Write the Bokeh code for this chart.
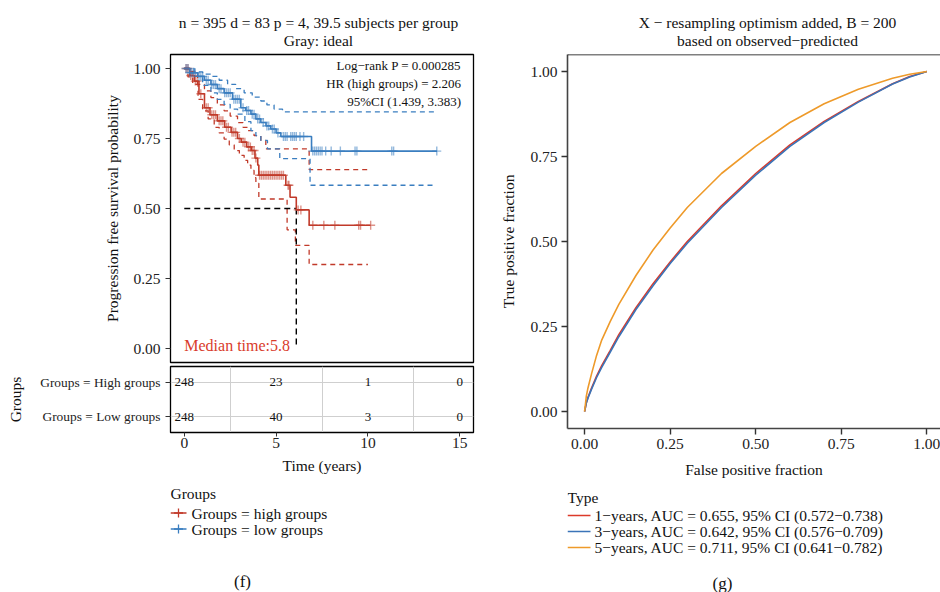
import numpy as np
from bokeh.plotting import figure
from bokeh.models import Range1d, FixedTicker, Span, PrintfTickFormatter
from bokeh.layouts import row, column
from bokeh.embed import file_html
from bokeh.resources import INLINE
from bokeh.core.properties import value

FONT = "Liberation Serif"

# ---------------- Kaplan-Meier data ----------------
high_t = [0, 0.3, 0.55, 0.8, 1.1, 1.4, 1.8, 2.2, 2.55, 2.9, 3.1, 3.4, 3.65, 3.85, 4.0, 4.06, 5.53, 5.76, 6.1, 6.8, 10.15]
high_s = [1.0, 0.975, 0.955, 0.91, 0.86, 0.835, 0.813, 0.79, 0.772, 0.75, 0.737, 0.72, 0.707, 0.68, 0.655, 0.619, 0.583, 0.54, 0.495, 0.44, 0.44]
high_up_t = [0, 0.3, 0.73, 1.1, 1.45, 1.8, 2.17, 2.5, 2.9, 3.2, 3.45, 3.8, 4.17, 4.44, 6.8, 10.15]
high_up_s = [1.0, 0.99, 0.943, 0.92, 0.896, 0.87, 0.849, 0.83, 0.807, 0.79, 0.778, 0.76, 0.743, 0.713, 0.639, 0.639]
high_lo_t = [0, 0.2, 0.46, 0.75, 1.0, 1.3, 1.63, 1.9, 2.17, 2.45, 2.72, 3.0, 3.26, 3.45, 3.63, 3.8, 3.9, 4.06, 5.6, 6.05, 6.8, 10.0]
high_lo_s = [1.0, 0.97, 0.943, 0.89, 0.849, 0.82, 0.79, 0.77, 0.748, 0.727, 0.707, 0.69, 0.672, 0.655, 0.636, 0.61, 0.59, 0.534, 0.424, 0.368, 0.30, 0.30]
high_cens = [0.1, 0.2, 0.35, 0.45, 0.6, 0.7, 0.9, 1.2, 1.3, 1.5, 1.6, 1.7, 1.9, 2.0, 2.1, 2.3, 2.4, 2.6,
             2.7, 2.8, 3.0, 3.2, 3.3, 3.5, 3.6, 3.7, 3.8, 3.9, 4.1, 4.2, 4.3, 4.4, 4.5, 4.6, 4.7, 4.8,
             4.9, 5.0, 5.1, 5.2, 5.3, 5.4, 5.65, 5.7, 6.2, 6.35, 7.0, 7.6, 8.2, 9.5, 9.6, 10.15]

low_t = [0, 0.3, 0.73, 1.1, 1.45, 1.8, 2.17, 2.63, 3.08, 3.35, 3.63, 3.9, 4.17, 4.45, 4.71, 5.0, 5.26, 6.93, 13.77]
low_s = [1.0, 0.985, 0.972, 0.958, 0.943, 0.928, 0.913, 0.89, 0.86, 0.85, 0.837, 0.82, 0.807, 0.795, 0.784, 0.77, 0.757, 0.705, 0.705]
low_up_t = [0, 0.54, 1.0, 1.45, 1.9, 2.36, 2.8, 3.26, 3.7, 4.17, 4.5, 4.89, 5.35, 13.77]
low_up_s = [1.0, 0.988, 0.98, 0.972, 0.958, 0.943, 0.928, 0.913, 0.898, 0.884, 0.87, 0.855, 0.845, 0.845]
low_lo_t = [0, 0.25, 0.54, 1.0, 1.45, 1.8, 2.17, 2.5, 2.9, 3.3, 3.63, 3.9, 4.17, 4.53, 5.2, 6.85, 13.7]
low_lo_s = [1.0, 0.985, 0.972, 0.94, 0.913, 0.89, 0.872, 0.855, 0.837, 0.81, 0.778, 0.76, 0.743, 0.713, 0.678, 0.583, 0.583]
low_cens = [0.1, 0.2, 0.3, 0.4, 0.5, 0.6, 0.8, 0.9, 1.0, 1.2, 1.3, 1.5, 1.6, 1.7, 1.9, 2.0, 2.2, 2.3, 2.4,
            2.5, 2.7, 2.8, 2.9, 3.0, 3.2, 3.4, 3.5, 3.7, 3.8, 4.0, 4.1, 4.3, 4.5, 4.6, 4.8, 4.9, 5.1,
            5.4, 5.5, 5.6, 5.8, 5.9, 6.0, 6.1, 6.3, 6.5, 7.0, 7.1, 7.2, 7.3, 7.4, 7.5, 7.7, 8.0, 8.5,
            9.3, 9.4, 11.3, 11.4, 13.75]

median_time_line = 6.1
median_label = "Median time:5.8"
km_title = "n = 395 d = 83 p = 4, 39.5 subjects per group"
km_subtitle = "Gray: ideal"
km_notes = ["Log\u2212rank P = 0.000285", "HR (high groups) = 2.206", "95%CI (1.439, 3.383)"]
km_y_ticks = [0.0, 0.25, 0.5, 0.75, 1.0]
time_ticks = [0, 5, 10, 15]

# risk table
risk_groups = ["Groups = Low groups", "Groups = High groups"]
risk_times = [0, 5, 10, 15]
risk_high = ["248", "23", "1", "0"]
risk_low = ["248", "40", "3", "0"]
legend_km = ["Groups = high groups", "Groups = low groups"]

# ---------------- ROC data ----------------
roc_fpr = [0, 0.005, 0.01, 0.02, 0.035, 0.05, 0.075, 0.10, 0.15, 0.20, 0.25, 0.30, 0.40, 0.50, 0.60, 0.70, 0.80, 0.90, 0.95, 1.0]
roc_1y = [0, 0.026, 0.042, 0.068, 0.104, 0.135, 0.18, 0.226, 0.305, 0.376, 0.44, 0.50, 0.605, 0.70, 0.784, 0.853, 0.912, 0.964, 0.985, 1.0]
roc_3y = [0, 0.025, 0.04, 0.065, 0.10, 0.13, 0.175, 0.22, 0.30, 0.37, 0.435, 0.495, 0.60, 0.695, 0.78, 0.85, 0.91, 0.963, 0.984, 1.0]
roc_5y = [0, 0.045, 0.07, 0.11, 0.165, 0.21, 0.265, 0.315, 0.40, 0.475, 0.54, 0.60, 0.70, 0.78, 0.85, 0.905, 0.948, 0.98, 0.992, 1.0]
roc_labels = ["1\u2212years, AUC = 0.655, 95% CI (0.572\u22120.738)",
              "3\u2212years, AUC = 0.642, 95% CI (0.576\u22120.709)",
              "5\u2212years, AUC = 0.711, 95% CI (0.641\u22120.782)"]
roc_ticks = [0.0, 0.25, 0.5, 0.75, 1.0]
roc_title = "X \u2212 resampling optimism added, B = 200"
roc_subtitle = "based on observed\u2212predicted"

RED = "#C13A2A"
BLUE = "#3A7EC0"
R_RED = "#DC3A2A"
R_BLUE = "#3B74B8"
R_ORANGE = "#EE9A2A"
TICK_C = "#222222"
TXT_C = "#111111"


def step_value(ts, ss, t):
    idx = np.searchsorted(np.asarray(ts), np.asarray(t), side="right") - 1
    return np.asarray(ss)[idx]


def style_axis(ax, size="15.5px"):
    ax.major_label_text_font = FONT
    ax.major_label_text_font_size = size
    ax.major_label_text_color = TICK_C
    ax.axis_label_text_font = FONT
    ax.axis_label_text_font_style = "normal"
    ax.axis_label_text_font_size = "15.5px"
    ax.axis_label_text_color = TXT_C
    ax.major_tick_in = 0
    ax.minor_tick_in = 0
    ax.minor_tick_out = 0
    ax.major_tick_line_color = "#333333"


def blank(width, height, xr, yr, left, right):
    """Axis-less figure whose frame is laid out in page-pixel coordinates."""
    f = figure(width=width, height=height, x_range=Range1d(*xr), y_range=Range1d(*yr),
               output_backend="svg", toolbar_location=None, x_axis_location=None, y_axis_location=None,
               min_border_left=left, min_border_right=right, min_border_top=0, min_border_bottom=0)
    f.outline_line_color = None
    f.grid.visible = False
    return f


def put_text(f, x, y, s, align="left", size="15.5px", color=TXT_C):
    f.text(x=[x], y=[y], text=[s], text_align=align, text_baseline="middle",
           text_font=value(FONT), text_font_size=size, text_color=color)


# ---------------- KM header (titles) ----------------
p0 = blank(480, 50, (170, 473), (50, 0), 170, 7)
put_text(p0, 318, 22, km_title, align="center")
put_text(p0, 318, 40, km_subtitle, align="center")

# ---------------- KM figure ----------------
p1 = figure(width=480, height=314, x_range=Range1d(-0.75, 15.75), y_range=Range1d(-0.05, 1.05),
            output_backend="svg", toolbar_location=None, x_axis_location=None,
            min_border_left=170, min_border_right=7, min_border_top=4, min_border_bottom=2)
p1.outline_line_color = "black"
p1.outline_line_width = 1.3
p1.outline_line_alpha = 1.0
p1.grid.visible = False
p1.yaxis.ticker = FixedTicker(ticks=km_y_ticks)
p1.yaxis.formatter = PrintfTickFormatter(format="%.2f")
p1.yaxis.axis_label = "Progression free survival probability"
style_axis(p1.yaxis[0])
p1.yaxis.major_tick_out = 5
p1.yaxis.axis_line_color = "black"
p1.yaxis.axis_label_standoff = 9

for ts, ss, col in [(high_up_t, high_up_s, RED), (high_lo_t, high_lo_s, RED),
                    (low_up_t, low_up_s, BLUE), (low_lo_t, low_lo_s, BLUE)]:
    p1.step(ts, ss, mode="after", line_color=col, line_width=1.3, line_dash="5 4")
p1.line([0, median_time_line], [0.5, 0.5], line_color="black", line_width=1.4, line_dash="6 4")
p1.line([median_time_line, median_time_line], [0.5, 0.0], line_color="black", line_width=1.4, line_dash="6 4")
p1.step(high_t, high_s, mode="after", line_color=RED, line_width=1.6)
p1.step(low_t, low_s, mode="after", line_color=BLUE, line_width=1.6)
p1.scatter(high_cens, step_value(high_t, high_s, high_cens), marker="cross", size=9,
           line_color=RED, line_width=1.4, line_alpha=0.55)
p1.scatter(low_cens, step_value(low_t, low_s, low_cens), marker="cross", size=9,
           line_color=BLUE, line_width=1.4, line_alpha=0.55)
p1.text(x=[15.07] * 3, y=[1.011, 0.946, 0.882], text=km_notes, text_align="right",
        text_baseline="middle", text_font=value(FONT), text_font_size="13px", text_color=TXT_C)
p1.text(x=[0.0], y=[0.012], text=[median_label], text_align="left", text_baseline="middle",
        text_font=value(FONT), text_font_size="16px", text_color="#D93B2B")

# ---------------- risk table ----------------
p2 = figure(width=480, height=116, x_range=Range1d(-0.75, 15.75), y_range=Range1d(0.557, 2.443),
            output_backend="svg", toolbar_location=None,
            min_border_left=170, min_border_right=7, min_border_top=2, min_border_bottom=48)
p2.outline_line_color = "black"
p2.outline_line_width = 1.3
p2.outline_line_alpha = 1.0
p2.xgrid.ticker = FixedTicker(ticks=[2.5, 7.5, 12.5])
p2.ygrid.ticker = FixedTicker(ticks=[1, 2])
p2.grid.grid_line_color = "#cfcfcf"
p2.grid.grid_line_width = 1
p2.xaxis.ticker = FixedTicker(ticks=time_ticks)
p2.yaxis.ticker = FixedTicker(ticks=[1, 2])
p2.yaxis.major_label_overrides = {1: risk_groups[0], 2: risk_groups[1]}
p2.xaxis.axis_label = "Time (years)"
p2.yaxis.axis_label = "Groups"
style_axis(p2.xaxis[0])
style_axis(p2.yaxis[0], size="13.4px")
p2.xaxis.major_tick_out = 4
p2.yaxis.major_tick_out = 5
p2.xaxis.major_label_standoff = 1
p2.xaxis.axis_label_standoff = 6
p2.yaxis.axis_label_standoff = 13
p2.axis.axis_line_color = "black"
p2.text(x=risk_times, y=[2] * 4, text=risk_high, text_align="center", text_baseline="middle",
        text_font=value(FONT), text_font_size="13px", text_color=TXT_C)
p2.text(x=risk_times, y=[1] * 4, text=risk_low, text_align="center", text_baseline="middle",
        text_font=value(FONT), text_font_size="13px", text_color=TXT_C)

# ---------------- left legend / caption ----------------
p3 = blank(480, 112, (170, 473), (592, 480), 170, 7)
put_text(p3, 170, 493, "Groups")
for yy, col, lab in [(512.5, RED, legend_km[0]), (528.5, BLUE, legend_km[1])]:
    p3.segment(x0=[170], y0=[yy], x1=[186], y1=[yy], line_color=col, line_width=1.6)
    p3.scatter([178], [yy], marker="cross", size=9, line_color=col, line_width=1.3)
    put_text(p3, 191, yy, lab)
put_text(p3, 242, 581, "(f)", align="center", size="17px")

# ---------------- ROC header (titles) ----------------
p6 = blank(460, 50, (567, 940), (50, 0), 87, 0)
put_text(p6, 767, 22, roc_title, align="center")
put_text(p6, 767, 40, roc_subtitle, align="center")

# ---------------- ROC figure ----------------
p4 = figure(width=460, height=430, x_range=Range1d(-0.05, 1.04), y_range=Range1d(-0.05, 1.05),
            output_backend="svg", toolbar_location=None,
            min_border_left=87, min_border_right=0, min_border_top=4, min_border_bottom=51)
p4.outline_line_color = None
p4.grid.visible = False
p4.xaxis.ticker = FixedTicker(ticks=roc_ticks)
p4.yaxis.ticker = FixedTicker(ticks=roc_ticks)
p4.axis.formatter = PrintfTickFormatter(format="%.2f")
p4.xaxis.axis_label = "False positive fraction"
p4.yaxis.axis_label = "True positive fraction"
style_axis(p4.xaxis[0])
style_axis(p4.yaxis[0])
p4.axis.major_tick_out = 6
p4.axis.axis_line_color = "#444444"
p4.axis.axis_line_width = 1.6
p4.axis.major_tick_line_width = 1.4
p4.xaxis.major_label_standoff = 4
p4.xaxis.axis_label_standoff = 9
p4.yaxis.major_label_standoff = 4
p4.yaxis.axis_label_standoff = 10
p4.add_layout(Span(location=1.05, dimension="width", line_color="black", line_width=1.5), "center")
p4.line(roc_fpr, roc_1y, line_color=R_RED, line_width=1.6)
p4.line(roc_fpr, roc_3y, line_color=R_BLUE, line_width=1.6)
p4.line(roc_fpr, roc_5y, line_color=R_ORANGE, line_width=1.6)

# ---------------- right legend / caption ----------------
p5 = blank(460, 112, (567, 940), (592, 480), 87, 0)
put_text(p5, 567, 497, "Type")
for yy, col, lab in [(515, R_RED, roc_labels[0]), (531, R_BLUE, roc_labels[1]), (547, R_ORANGE, roc_labels[2])]:
    p5.segment(x0=[567], y0=[yy], x1=[590], y1=[yy], line_color=col, line_width=1.6)
    put_text(p5, 594, yy, lab)
put_text(p5, 722, 583, "(g)", align="center", size="17px")

layout = row(column(p0, p1, p2, p3, spacing=0), column(p6, p4, p5, spacing=0), spacing=0)
open("out.html", "w").write(file_html(layout, INLINE))
